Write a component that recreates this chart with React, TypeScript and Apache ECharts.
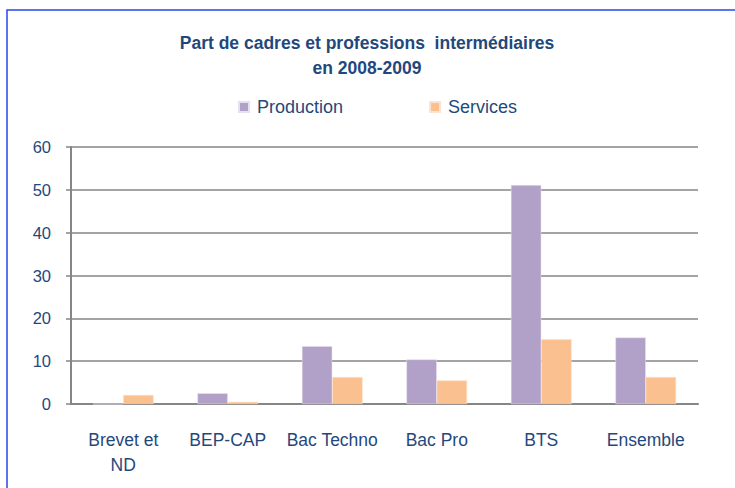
import React, { useEffect, useRef } from "react";
import * as echarts from "echarts";

const categories = ["Brevet et\nND", "BEP-CAP", "Bac Techno", "Bac Pro", "BTS", "Ensemble"];
const production = [0, 2.5, 13.5, 10.4, 51.1, 15.5];
const services = [2.1, 0.5, 6.3, 5.5, 15.1, 6.3];
const yTicks = { min: 0, max: 60, interval: 10 };
const titleText = "Part de cadres et professions  intermédiaires\nen 2008-2009";

const TEXT = "#1F497D";
const AXIS = "#868686";
const FONT = "'Liberation Sans', Arial, sans-serif";

export default function App() {
  const ref = useRef<HTMLDivElement>(null);
  useEffect(() => {
    if (!ref.current) return;
    const chart = echarts.init(ref.current, null, { renderer: "svg" });
    chart.setOption({
      animation: false,
      backgroundColor: "#fff",
      title: {
        text: titleText,
        left: 362,
        textAlign: "center",
        top: 25,
        textStyle: { color: TEXT, fontFamily: FONT, fontWeight: "bold", fontSize: 17.5, lineHeight: 25 },
      },
      legend: {
        left: 233,
        top: 93,
        itemWidth: 10,
        itemHeight: 10,
        itemGap: 86,
        icon: "rect",
        textStyle: { color: TEXT, fontFamily: FONT, fontSize: 18, padding: [0, 0, 0, 3] },
        data: ["Production", "Services"],
      },
      grid: { left: 71, right: 37, top: 147, bottom: 84 },
      xAxis: {
        type: "category",
        data: categories,
        axisLine: { lineStyle: { color: AXIS, width: 2 } },
        axisTick: { length: 6, lineStyle: { color: AXIS, width: 1.5 } },
        axisLabel: { color: TEXT, fontFamily: FONT, fontSize: 17.5, margin: 23, lineHeight: 25, interval: 0 },
      },
      yAxis: {
        type: "value",
        min: yTicks.min,
        max: yTicks.max,
        interval: yTicks.interval,
        axisLine: { show: true, lineStyle: { color: AXIS, width: 2 } },
        axisTick: { show: true, length: 5, lineStyle: { color: AXIS, width: 1.5 } },
        splitLine: { lineStyle: { color: AXIS, width: 1.5 } },
        axisLabel: { color: TEXT, fontFamily: FONT, fontSize: 16.5, margin: 20 },
      },
      series: [
        {
          name: "Production",
          type: "bar",
          data: production,
          barGap: "0%",
          barCategoryGap: "42%",
          itemStyle: { color: "#B1A0C7", borderColor: "#E8E0F0", borderWidth: 0.5 },
        },
        {
          name: "Services",
          type: "bar",
          data: services,
          itemStyle: { color: "#FAC090", borderColor: "#FDE3CC", borderWidth: 0.5 },
        },
      ],
      graphic: [
        {
          type: "rect",
          shape: { x: 7, y: 10, width: 800, height: 600 },
          style: { fill: "none", stroke: "#2A45F0", lineWidth: 1.5 },
          silent: true,
        },
      ],
    });
    return () => chart.dispose();
  }, []);
  return <div ref={ref} style={{ width: 735, height: 488, position: "absolute", left: 0, top: 0 }} />;
}
